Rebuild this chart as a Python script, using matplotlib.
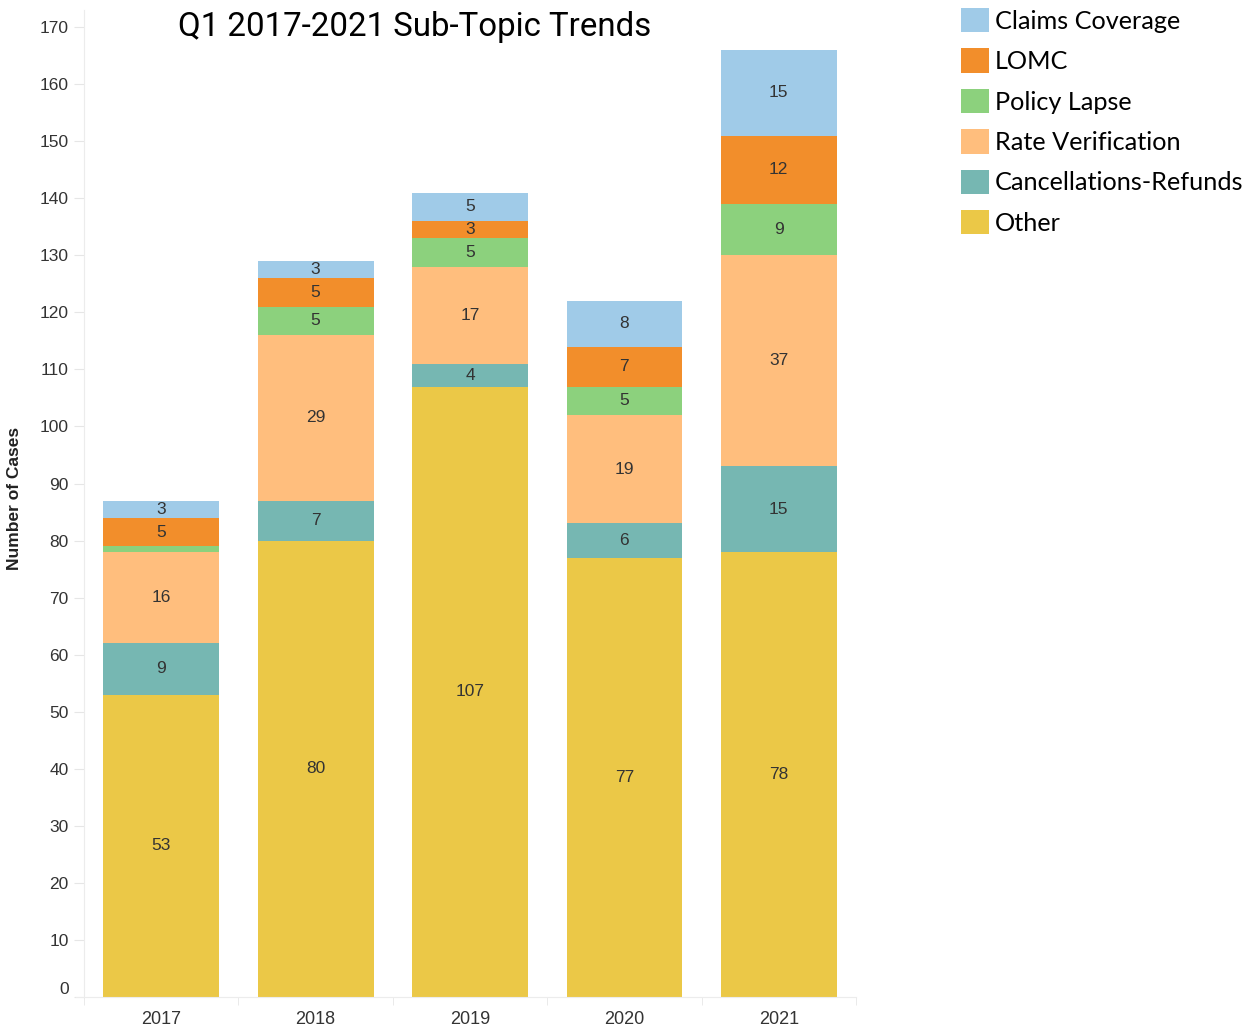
import matplotlib
matplotlib.use("Agg")
import matplotlib.pyplot as plt
from matplotlib.patches import Patch

years = ["2017", "2018", "2019", "2020", "2021"]

# stacked bottom -> top
other = [53, 80, 107, 77, 78]
cancellations = [9, 7, 4, 6, 15]
rate_verification = [16, 29, 17, 19, 37]
policy_lapse = [1, 5, 5, 5, 9]
lomc = [5, 5, 3, 7, 12]
claims_coverage = [3, 3, 5, 8, 15]

series = [
	("Other", other, "#EBC847"),
	("Cancellations-Refunds", cancellations, "#76B7B2"),
	("Rate Verification", rate_verification, "#FFBE7D"),
	("Policy Lapse", policy_lapse, "#8CD17D"),
	("LOMC", lomc, "#F28E2B"),
	("Claims Coverage", claims_coverage, "#A0CBE8"),
]

fig = plt.figure(figsize=(12.52, 10.26), dpi=100)
ax = fig.add_axes([84/1252, 1-997/1026, (856-84)/1252, (997-10)/1026])

x = list(range(len(years)))
bottom = [0]*len(years)
for name, vals, col in series:
	bars = ax.bar(x, vals, width=0.75, bottom=bottom, color=col, edgecolor="none", label=name)
	for i, v in enumerate(vals):
		if v < 2:
			continue  # too thin, no label in the original
		ax.text(x[i], bottom[i] + v/2, str(v), ha="center", va="center",
			fontsize=12.5, color="#333333", family="Liberation Sans")
	bottom = [b + v for b, v in zip(bottom, vals)]

ax.set_xlim(-0.5, len(years) - 0.5)
ax.set_ylim(0, 173)
ax.set_yticks(range(0, 171, 10))
ax.set_xticks(x)
ax.set_xticklabels(years)
ax.set_xticks([i - 0.5 for i in range(len(years) + 1)], minor=True)

for s in ["top", "right"]:
	ax.spines[s].set_visible(False)
for s in ["left", "bottom"]:
	ax.spines[s].set_color("#ececec")
ax.spines["bottom"].set_bounds(-0.55, len(years) - 0.5)

ax.tick_params(axis="y", length=7, color="#e6e6e6", labelsize=12.5, labelcolor="#333333", pad=4)
ax.tick_params(axis="x", which="major", length=0, labelsize=13, labelcolor="#333333", pad=10)
ax.tick_params(axis="x", which="minor", length=6, color="#e6e6e6")
for t in ax.get_yticklabels() + ax.get_xticklabels():
	t.set_family("Liberation Sans")
ax.get_yticklabels()[0].set_va("bottom")

ax.set_ylabel("Number of Cases", fontsize=12.5, fontweight="bold", family="Liberation Sans", color="#222222")
ax.yaxis.set_label_coords(-0.08, 0.505)

fig.text(415/1252, 1-27/1026, "Q1 2017-2021 Sub-Topic Trends", ha="center", va="center",
	fontsize=23.8, family="Roboto", color="black")

handles = [Patch(facecolor=col, edgecolor="none", label=name) for name, vals, col in series][::-1]
fig.legend(handles=handles, loc="upper left", bbox_to_anchor=(951/1252, 1.002), frameon=False,
	prop={"family": "Lato", "size": 18.2}, handlelength=1.1, handleheight=1.1,
	handletextpad=0.25, labelspacing=0.62, borderaxespad=0)

fig.savefig("out.png", dpi=100)
